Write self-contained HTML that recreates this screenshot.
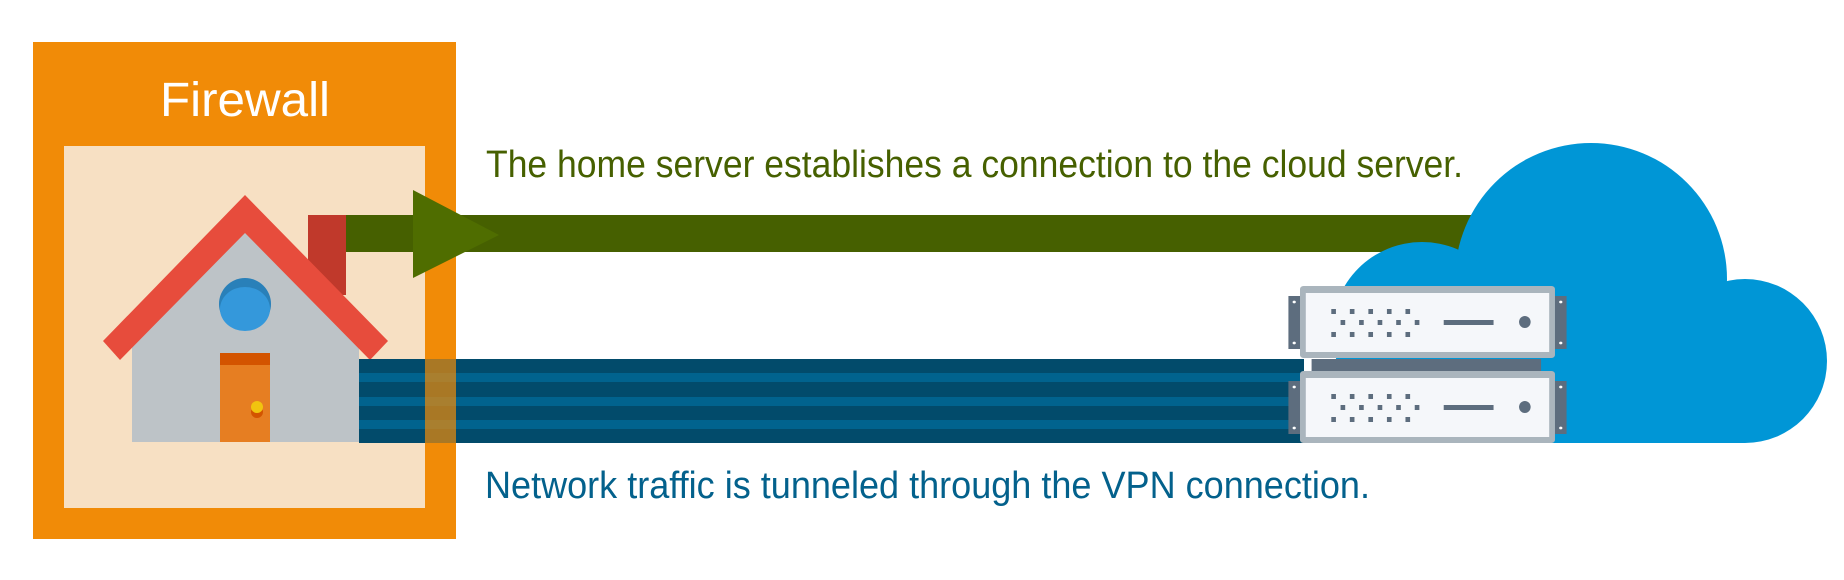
<!DOCTYPE html>
<html><head><meta charset="utf-8"><style>
html,body{margin:0;padding:0;background:#fff;width:1844px;height:580px;overflow:hidden}
svg{display:block}
</style></head><body>
<svg width="1844" height="580" viewBox="0 0 1844 580" xmlns="http://www.w3.org/2000/svg">
<!-- firewall box -->
<rect x="33" y="42" width="423" height="497" fill="#f18b07"/>
<rect x="64" y="146" width="361" height="362" fill="#f7e0c3"/>
<text x="245" y="116" fill="#fff" font-family="Liberation Sans, sans-serif" font-size="48" text-anchor="middle" textLength="170" lengthAdjust="spacingAndGlyphs">Firewall</text>
<!-- house -->
<rect x="308" y="215" width="38" height="80" fill="#c0392b"/>
<polygon points="132,330 245,214 359,330 359,442 132,442" fill="#bdc3c7"/>
<polygon points="132,330 245,214 359,330 359,318 245,200 132,318" fill="#95a5a6"/>
<polygon points="103,341 245,195 388,341 370,360 245,233 120,360" fill="#e74c3c"/>
<circle cx="245" cy="304" r="26" fill="#2980b9"/>
<ellipse cx="245" cy="309" rx="25" ry="22" fill="#3498db"/>
<rect x="220" y="353" width="50" height="89" fill="#e67e22"/>
<rect x="220" y="353" width="50" height="12" fill="#d35400"/>
<circle cx="257" cy="412" r="6" fill="#d35400"/>
<circle cx="257" cy="407" r="6" fill="#f1c40f"/>
<!-- blue tunnel -->
<rect x="359" y="359" width="945" height="84" fill="#024b6b"/>
<rect x="359" y="373" width="945" height="9" fill="#01638e"/>
<rect x="359" y="397" width="945" height="9" fill="#01638e"/>
<rect x="359" y="420" width="945" height="9" fill="#01638e"/>
<rect x="425" y="359" width="31" height="84" fill="#f18b07" opacity="0.7"/>
<!-- green arrow -->
<rect x="346" y="215" width="1130" height="37" fill="#466000"/>
<polygon points="413,190 499,235 413,278" fill="#4f6d00"/>
<text x="486" y="177" fill="#466000" font-family="Liberation Sans, sans-serif" font-size="38" textLength="977" lengthAdjust="spacingAndGlyphs">The home server establishes a connection to the cloud server.</text>
<text x="485" y="498" fill="#03618c" font-family="Liberation Sans, sans-serif" font-size="38" textLength="885" lengthAdjust="spacingAndGlyphs">Network traffic is tunneled through the VPN connection.</text>
<!-- cloud -->
<g fill="#0096d6">
<circle cx="1591" cy="279" r="136"/>
<circle cx="1422" cy="332" r="90"/>
<circle cx="1745" cy="361" r="82"/>
<rect x="1345" y="330" width="400" height="113"/>
</g>
<!-- servers -->
<g transform="translate(1300,0) scale(1.159,1) translate(-1292,0)">
<rect x="1302" y="359" width="198" height="12" fill="#5d6d7e"/>
<g id="srv">
<rect x="1282" y="296" width="10" height="53" fill="#5d6d7e"/>
<rect x="1512" y="296" width="10" height="53" fill="#5d6d7e"/>
<circle cx="1287" cy="302" r="1.4" fill="#fff"/><circle cx="1287" cy="343" r="1.4" fill="#fff"/>
<circle cx="1517" cy="302" r="1.4" fill="#fff"/><circle cx="1517" cy="343" r="1.4" fill="#fff"/>
<rect x="1292" y="286" width="220" height="72" rx="3" fill="#aab5bd"/>
<rect x="1297" y="293" width="210" height="59" fill="#f5f7fa"/>
<g fill="#5d6d7e">
<rect x="1319" y="309" width="4" height="5"/><rect x="1335" y="309" width="4" height="5"/><rect x="1351" y="309" width="4" height="5"/><rect x="1367" y="309" width="4" height="5"/><rect x="1383" y="309" width="4" height="5"/>
<rect x="1327" y="320" width="4" height="5"/><rect x="1343" y="320" width="4" height="5"/><rect x="1359" y="320" width="4" height="5"/><rect x="1375" y="320" width="4" height="5"/><rect x="1391" y="320" width="4" height="5"/>
<rect x="1319" y="332" width="4" height="5"/><rect x="1335" y="332" width="4" height="5"/><rect x="1351" y="332" width="4" height="5"/><rect x="1367" y="332" width="4" height="5"/><rect x="1383" y="332" width="4" height="5"/>
<rect x="1416" y="320" width="43" height="5"/>
<ellipse cx="1486" cy="322" rx="5" ry="6"/>
</g>
</g>
<use href="#srv" transform="translate(0,85)"/>
</g>
</svg>
</body></html>
